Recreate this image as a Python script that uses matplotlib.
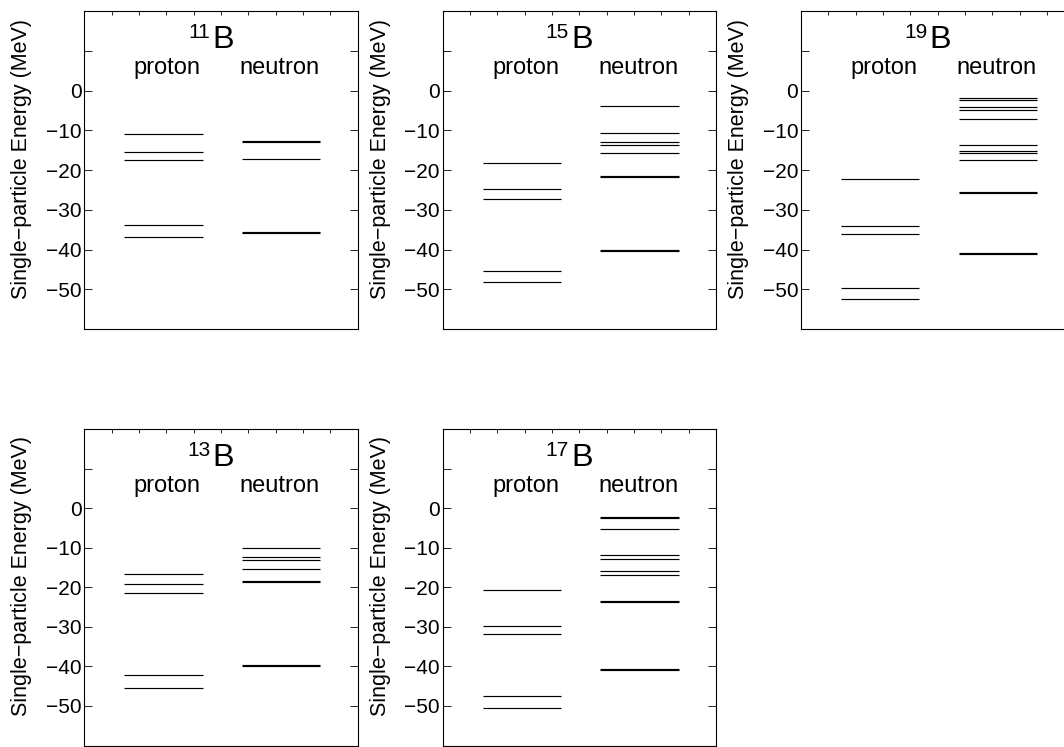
import matplotlib
matplotlib.use("Agg")
import matplotlib.pyplot as plt

plt.rcParams['font.family'] = ['Liberation Sans', 'DejaVu Sans']
plt.rcParams['axes.unicode_minus'] = True

# single-particle levels (MeV); close pairs are near-degenerate orbitals
nuclei = ['11', '15', '19', '13', '17']

b11_proton = [-11.0, -15.4, -17.6, -33.8, -36.9]
b11_neutron = [-12.6, -12.85, -17.3, -35.6, -35.85]

b13_proton = [-16.55, -19.2, -21.35, -42.3, -45.4]
b13_neutron = [-10.15, -12.35, -13.0, -15.3, -18.45, -18.7, -39.7, -39.95]

b15_proton = [-18.3, -24.8, -27.2, -45.3, -48.1]
b15_neutron = [-3.9, -10.75, -12.9, -13.6, -15.8, -21.6, -21.85, -40.2, -40.45]

b17_proton = [-20.75, -29.85, -31.7, -47.6, -50.5]
b17_neutron = [-2.25, -2.6, -5.3, -11.85, -12.75, -15.9, -16.8, -23.6, -23.85,
               -40.7, -40.95]

b19_proton = [-22.2, -34.2, -36.0, -49.8, -52.4]
b19_neutron = [-1.8, -2.4, -4.25, -4.8, -7.25, -13.6, -15.2, -15.75, -17.4,
               -25.6, -25.85, -40.9, -41.15]

levels = {
    '11': (b11_proton, b11_neutron),
    '13': (b13_proton, b13_neutron),
    '15': (b15_proton, b15_neutron),
    '17': (b17_proton, b17_neutron),
    '19': (b19_proton, b19_neutron),
}

yticks = [-50, -40, -30, -20, -10, 0, 10]
yticklabels = ['\u221250', '\u221240', '\u221230', '\u221220', '\u221210', '0', '']

W, H = 1064, 747
fig = plt.figure(figsize=(W / 100, H / 100), dpi=100)

# axes boxes in pixels: left edges per column, top edge and height per row
lefts = [84.3, 442.7, 801.0]
tops = [11.0, 429.0]
heights = [318.0, 316.5]
aw = 273.4
spots = [(0, 0), (0, 1), (0, 2), (1, 0), (1, 1)]

for name, (r, c) in zip(nuclei, spots):
    x0 = lefts[c]
    y0 = tops[r]
    ah = heights[r]
    ax = fig.add_axes([x0 / W, (H - y0 - ah) / H, aw / W, ah / H])
    prot, neut = levels[name]
    ax.hlines(prot, 1.47, 4.33, color='black', lw=0.85)
    ax.hlines(neut, 5.77, 8.63, color='black', lw=0.85)

    ax.set_xlim(0, 10)
    ax.set_ylim(-60, 20)
    ax.set_xticks(range(1, 10))
    ax.set_xticklabels([])
    ax.xaxis.set_ticks_position('top')
    ax.tick_params(axis='x', direction='in', length=2.8, width=0.6)
    ax.set_yticks(yticks)
    ax.set_yticklabels(yticklabels)
    ax.tick_params(axis='y', direction='in', length=5.8, width=0.6,
                   left=True, right=True, labelsize=15, pad=2)
    for sp in ax.spines.values():
        sp.set_linewidth(0.8)

    ax.set_ylabel('Single\u2212particle Energy (MeV)', fontsize=15.5)
    ax.yaxis.set_label_coords(-0.19, 0.535)

    # mass number as a small raised prefix before the element symbol
    ax.text(4.62, 13.3, name, fontsize=15, ha='right', va='baseline')
    ax.text(4.69, 10.7, 'B', fontsize=23.4, ha='left', va='baseline')
    ax.text(3.03, 4.2, 'proton', fontsize=17, ha='center', va='baseline')
    ax.text(7.15, 4.2, 'neutron', fontsize=17, ha='center', va='baseline')

fig.savefig('out.png', dpi=100)
